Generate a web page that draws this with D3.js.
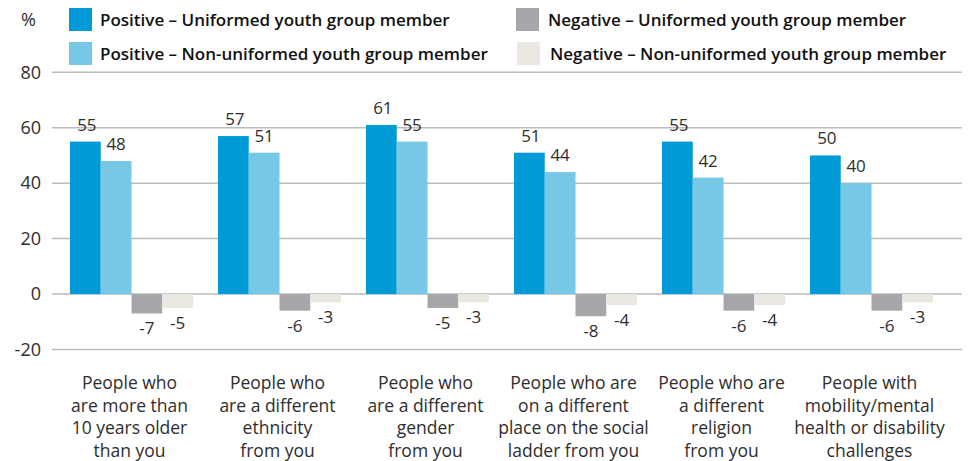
<!DOCTYPE html>
<html>
<head>
<meta charset="utf-8">
<script src="https://cdn.jsdelivr.net/npm/d3@7"></script>
<style>
  html, body { margin: 0; padding: 0; background: #fff; }
  svg { display: block; font-family: "Open Sans", "Noto Sans", sans-serif; }
</style>
</head>
<body>
<svg id="chart" width="976" height="461"></svg>
<script>
// Attitudes towards different groups of people, % positive / negative
const categories = [
  ["People who", "are more than", "10 years older", "than you"],
  ["People who", "are a different", "ethnicity", "from you"],
  ["People who", "are a different", "gender", "from you"],
  ["People who are", "on a different", "place on the social", "ladder from you"],
  ["People who are", "a different", "religion", "from you"],
  ["People with", "mobility/mental", "health or disability", "challenges"]
];
const seriesNames = [
  "Positive – Uniformed youth group member",
  "Positive – Non-uniformed youth group member",
  "Negative – Uniformed youth group member",
  "Negative – Non-uniformed youth group member"
];
const positiveUniformed    = [55, 57, 61, 51, 55, 50];
const positiveNonUniformed = [48, 51, 55, 44, 42, 40];
const negativeUniformed    = [-7, -6, -5, -8, -6, -6];
const negativeNonUniformed = [-5, -3, -3, -4, -4, -3];
const yTicks = [-20, 0, 20, 40, 60, 80];
const colors = ["#009ad6", "#77c8e6", "#a6a7ab", "#ebe7e1"];

const seriesValues = [positiveUniformed, positiveNonUniformed, negativeUniformed, negativeNonUniformed];
const textColor = "#2e2e2e";

const svg = d3.select("#chart");

const y = d3.scaleLinear().domain([-20, 80]).range([349.5, 72.3]);
const groupIdx = d3.range(categories.length);
const pad = 25 / 148;
const x0 = d3.scaleBand().domain(groupIdx).range([57.5, 945.5])
  .paddingInner(pad).paddingOuter(pad / 2);
const x1 = d3.scaleBand().domain(d3.range(seriesNames.length)).range([0, x0.bandwidth()]);

// Gridlines
svg.append("g").selectAll("line").data(yTicks).join("line")
  .attr("x1", 52).attr("x2", 962)
  .attr("y1", d => y(d)).attr("y2", d => y(d))
  .attr("stroke", "#bcbcbc").attr("stroke-width", 1.5);

// Y axis labels
const yAxis = d3.axisLeft(y).tickValues(yTicks).tickSize(0).tickPadding(0);
const yg = svg.append("g").attr("transform", "translate(41,0)").call(yAxis);
yg.select(".domain").remove();
yg.selectAll("text")
  .attr("font-size", 18).attr("fill", textColor)
  .attr("font-family", "'Open Sans', sans-serif")
  .text(d => d < 0 ? "-" + Math.abs(d) : d);

svg.append("text").attr("x", 21).attr("y", 26)
  .attr("font-size", 18).attr("fill", textColor).text("%");

// Bars
const groups = svg.append("g").selectAll("g").data(groupIdx).join("g")
  .attr("transform", i => `translate(${x0(i)},0)`);

const cells = groups.selectAll("g.cell")
  .data(i => seriesValues.map((vals, s) => ({ s, v: vals[i] })))
  .join("g").attr("class", "cell");

cells.append("rect")
  .attr("x", d => x1(d.s))
  .attr("width", x1.bandwidth())
  .attr("y", d => y(Math.max(0, d.v)))
  .attr("height", d => Math.abs(y(d.v) - y(0)))
  .attr("fill", d => colors[d.s]);

cells.append("text")
  .attr("x", d => x1(d.s) + x1.bandwidth() / 2 + (d.s === 0 ? 1.5 : 0))
  .attr("y", d => d.v >= 0 ? y(d.v) - 11 : y(d.v) + 21)
  .attr("text-anchor", "middle")
  .attr("font-size", 17).attr("fill", textColor)
  .text(d => d.v < 0 ? "-" + Math.abs(d.v) : d.v);

// Category labels
const catLabels = svg.append("g").selectAll("text").data(groupIdx).join("text")
  .attr("x", i => x0(i) + x0.bandwidth() / 2 - 2)
  .attr("y", 389)
  .attr("text-anchor", "middle")
  .attr("font-size", 17.5).attr("fill", textColor);
catLabels.selectAll("tspan").data(i => categories[i]).join("tspan")
  .attr("x", function () { return d3.select(this.parentNode).attr("x"); })
  .attr("dy", (d, j) => j === 0 ? 0 : 22.6)
  .text(d => d);

// Legend
const legendPos = [
  { x: 69, y: 8, tx: 100 },
  { x: 69, y: 42, tx: 100 },
  { x: 516, y: 8, tx: 548 },
  { x: 517, y: 42, tx: 550 }
];
const legend = svg.append("g").selectAll("g").data(seriesNames).join("g");
legend.append("rect")
  .attr("x", (d, i) => legendPos[i].x).attr("y", (d, i) => legendPos[i].y)
  .attr("width", 23).attr("height", 23)
  .attr("fill", (d, i) => colors[i]);
legend.append("text")
  .attr("x", (d, i) => legendPos[i].tx).attr("y", (d, i) => legendPos[i].y + 18)
  .attr("font-size", 17).attr("font-weight", 600).attr("fill", "#111")
  .text(d => d);
</script>
</body>
</html>
